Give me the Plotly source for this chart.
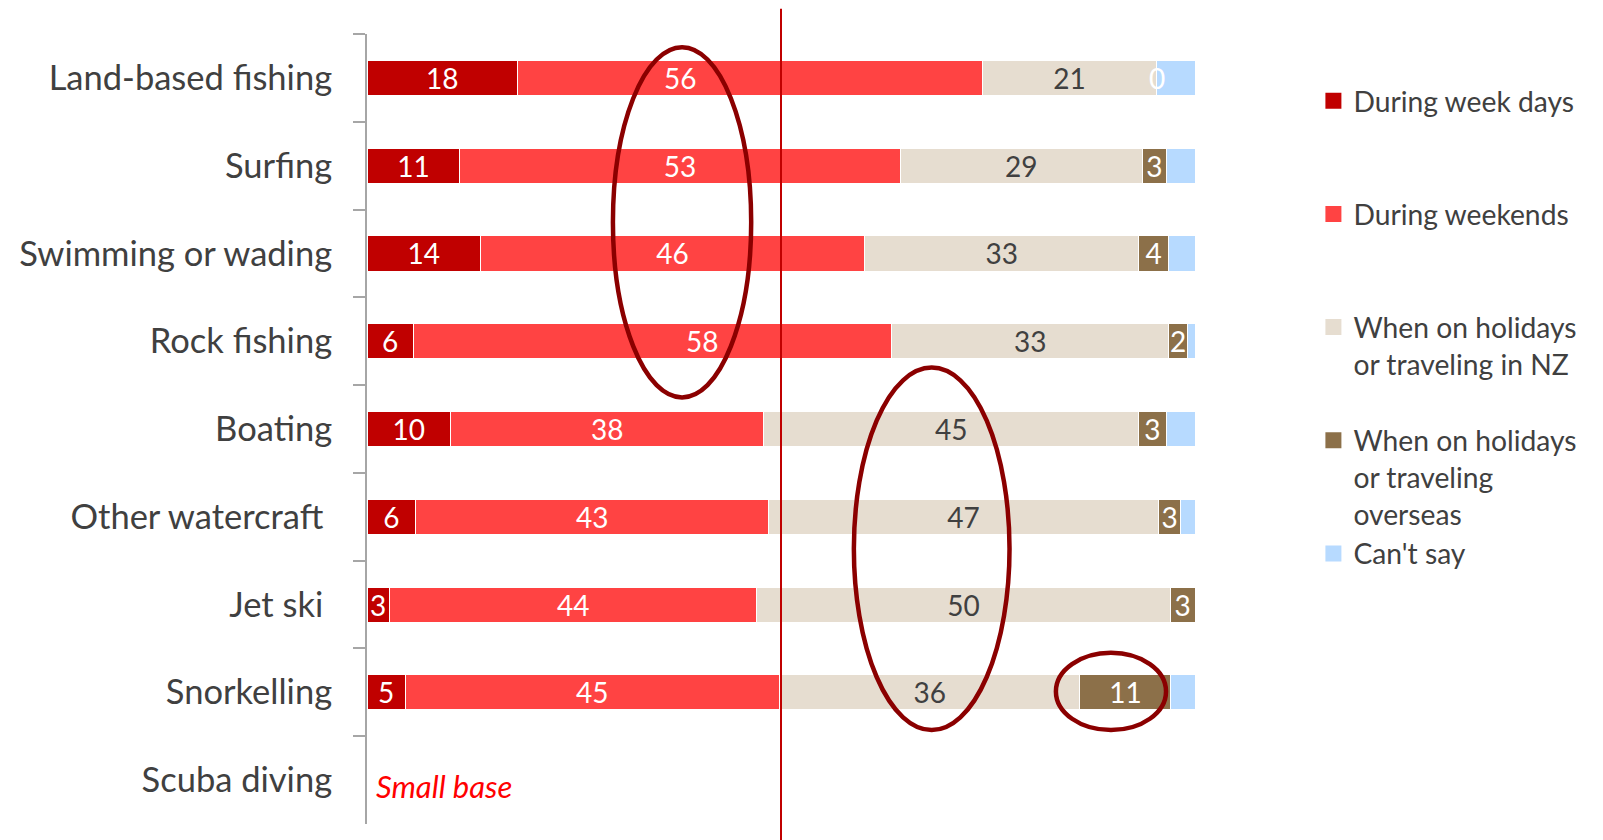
import plotly.graph_objects as go

categories = ["Land-based fishing", "Surfing", "Swimming or wading", "Rock fishing",
              "Boating", "Other watercraft\u00a0", "Jet ski\u00a0", "Snorkelling", "Scuba diving"]
week_days = [18.2, 11.2, 13.7, 5.6, 10.1, 5.9, 2.7, 4.6, None]
weekends = [56.1, 53.2, 46.4, 57.8, 37.8, 42.6, 44.4, 45.2, None]
holidays_nz = [21.1, 29.2, 33.1, 33.4, 45.3, 47.1, 49.9, 36.3, None]
holidays_overseas = [0.0, 3.0, 3.6, 2.3, 3.3, 2.7, 3.0, 11.0, None]
cant_say = [4.6, 3.4, 3.2, 0.9, 3.5, 1.7, 0.0, 2.9, None]

# weekend labels moved inside the highlight ellipse (label x position, % axis)
moved_weekend_labels = {0: 37.8, 3: 40.5}

FONT = "Lato"
series = [
    ("wd", "During week days<br> <br> ", week_days, "#C00000", "white", True),
    ("we", "During weekends<br> <br> ", weekends, "#FF4343", "white", True),
    ("nz", "When on holidays<br>or traveling in NZ<br> ", holidays_nz, "#E6DDD0", "#404040", True),
    ("os", "When on holidays<br>or traveling<br>overseas", holidays_overseas, "#8C7049", "white", True),
    ("cs", "Can't say", cant_say, "#B7DAFF", "white", False),
]


def label(v):
    return "" if v is None else f"{v:.0f}"


fig = go.Figure()
for key, name, vals, color, tcolor, show in series:
    texts = [label(v) if (show and v) else "" for v in vals]
    if key == "we":
        for i in moved_weekend_labels:
            texts[i] = ""
    fig.add_trace(go.Bar(
        y=categories, x=vals, name=name, orientation="h", legendgroup=key, showlegend=False,
        marker=dict(color=color, line=dict(color="white", width=1)),
        text=texts, texttemplate="%{text}",
        textposition="inside",
        insidetextanchor="middle",
        textangle=0,
        constraintext="none",
        textfont=dict(family=FONT, size=28, color=tcolor),
        hoverinfo="x+y",
    ))
    # legend entry with a larger square swatch
    fig.add_trace(go.Scatter(
        x=[None], y=[None], mode="markers", name=name, legendgroup=key,
        marker=dict(symbol="square", size=16, color=color), hoverinfo="skip",
    ))

# moved weekend labels
for i, xpos in moved_weekend_labels.items():
    fig.add_annotation(x=xpos, y=categories[i], xref="x", yref="y", text=label(weekends[i]),
                       showarrow=False, font=dict(family=FONT, size=28, color="white"))

# zero-valued overseas labels at their (zero-width) segment position
for i, v in enumerate(holidays_overseas):
    if v is not None and round(v) == 0:
        xpos = week_days[i] + weekends[i] + holidays_nz[i]
        fig.add_annotation(x=xpos, y=categories[i], xref="x", yref="y", text=label(v),
                           showarrow=False, font=dict(family=FONT, size=28, color="white"))

# reference line at 50%
fig.add_shape(type="line", xref="x", yref="paper", x0=50, x1=50, y0=-0.03, y1=1.032,
              line=dict(color="#C00000", width=2))
# highlight ellipses
ell = dict(type="circle", xref="x", yref="y", line=dict(color="#8B0000", width=4.5))
fig.add_shape(x0=29.7, x1=46.4, y0=-0.35, y1=3.64, **ell)
fig.add_shape(x0=58.8, x1=77.6, y0=3.30, y1=7.43, **ell)
fig.add_shape(x0=83.2, x1=96.5, y0=6.55, y1=7.43, **ell)

fig.add_annotation(x=0.8, y="Scuba diving", xref="x", yref="y", text="<i>Small base</i>",
                   showarrow=False, xanchor="left", yshift=-6,
                   font=dict(family=FONT, size=31, color="#FF0000"))

fig.update_layout(
    width=1603, height=840,
    barmode="stack", bargap=0.6,
    plot_bgcolor="white", paper_bgcolor="white",
    margin=dict(l=367, r=408, t=34, b=16),
    font=dict(family=FONT, color="#404040"),
    legend=dict(x=1.143, y=0.947, xanchor="left", yanchor="top", valign="top",
                traceorder="normal", font=dict(family=FONT, size=28.25, color="#404040"),
                tracegroupgap=0, bgcolor="rgba(0,0,0,0)"),
    xaxis=dict(range=[0, 100], visible=False, fixedrange=True),
    yaxis=dict(autorange="reversed", showline=True, linecolor="#A6A6A6", linewidth=2,
               ticks="outside", tickson="boundaries", ticklen=12, tickcolor="#A6A6A6",
               tickwidth=2, ticklabelstandoff=26, showgrid=False,
               tickfont=dict(family=FONT, size=34.5, color="#404040")),
)

fig.write_html("out.html", config={"displayModeBar": False},
               post_script="document.body.style.margin='0';")
